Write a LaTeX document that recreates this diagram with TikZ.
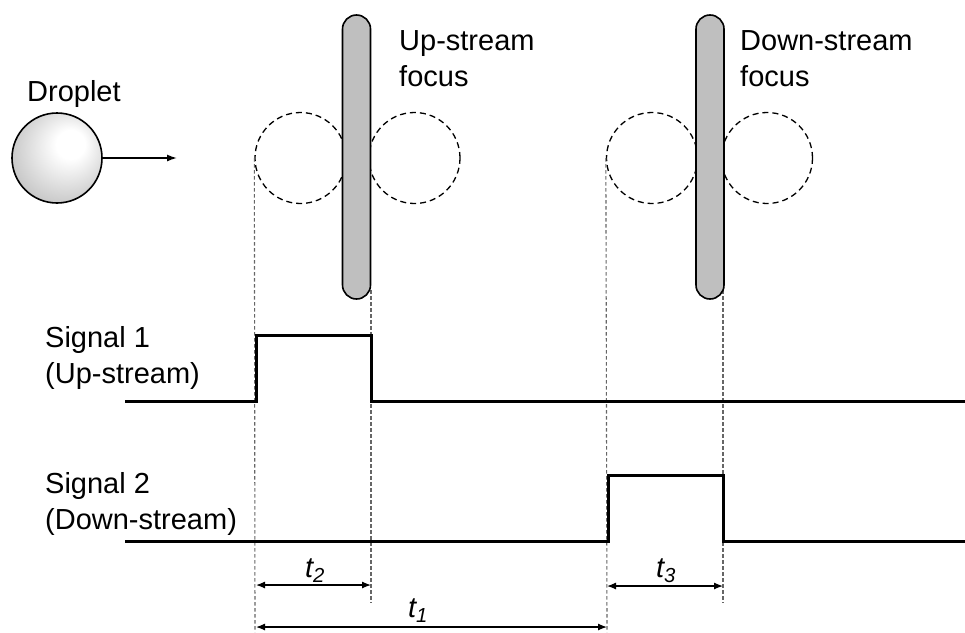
\documentclass[tikz,border=0pt]{standalone}
\usepackage{fontspec}
\setmainfont{Liberation Sans}
\usetikzlibrary{arrows.meta}
% soft highlight on the droplet, light from the upper right
\pgfdeclareradialshading{dropshade}{\pgfqpoint{9bp}{9bp}}{%
  color(0bp)=(white); color(8bp)=(white); color(40bp)=(black!32); color(50bp)=(black!32)}
\begin{document}
\begin{tikzpicture}[x=1pt,y=-1pt,
  every node/.style={font=\fontsize{29}{36}\selectfont},
  txt/.style={anchor=base west,inner sep=0pt,align=left},
  tlab/.style={anchor=base,inner sep=0pt},
  bar/.style={draw,line width=1.6pt,fill=black!25,rectangle,rounded corners=14pt,
    minimum width=28pt,minimum height=284pt,inner sep=0pt},
  ghost/.style={draw,circle,line width=1.3pt,dash pattern=on 6pt off 4pt,
    minimum size=91pt,inner sep=0pt},
  sig/.style={line width=3pt,miter limit=10},
  guide/.style={draw=black!60,line width=1.1pt,dash pattern=on 3.5pt off 2.5pt},
  dim/.style={line width=1.2pt,{Latex[length=9pt,width=7pt]}-{Latex[length=9pt,width=7pt]}}]
\useasboundingbox (0,0) rectangle (965,632);

% droplet and its direction of travel
\shade[shading=dropshade] (57,158) circle (45);
\node[circle,draw,line width=1.6pt,minimum size=90pt,inner sep=0pt] (drop) at (57,158) {};
\coordinate (dir) at (177,158);
\draw[line width=1.4pt,-{Latex[length=10pt,width=7pt]}] (drop.east) -- (dir);
\node[txt] (droplab) at (27,101) {Droplet};

% droplet positions either side of each focus
\node[ghost] (ua) at (300.5,158) {};
\node[ghost] (ub) at (414.5,158) {};
\node[ghost] (da) at (652,158) {};
\node[ghost] (db) at (767,158) {};

% guide lines from the geometry down to the time axis
\coordinate (g1) at (255,632);
\coordinate (g2) at (371,603);
\coordinate (g3) at (607,632);
\coordinate (g4) at (723,603);
\coordinate (u2) at (371,290);
\coordinate (d2) at (723,290);
\draw[guide] (ua.west) -- (g1);
\draw[guide] (u2) -- (g2);
\draw[guide] (da.west) -- (g3);
\draw[guide] (d2) -- (g4);

% the two laser foci
\node[bar] (ubar) at (356.5,157) {};
\node[bar] (dbar) at (710,157) {};
\node[txt] (ulab) at (399,86) {Up-stream\\focus};
\node[txt] (dlab) at (740,86) {Down-stream\\focus};

% detector signals
\node[txt] (s1lab) at (45,383) {Signal 1\\(Up-stream)};
\node[txt] (s2lab) at (45,529) {Signal 2\\(Down-stream)};
\draw[sig] (125,401) -- (256,401) -- (256,335) -- (371,335) -- (371,401) -- (965,401);
\draw[sig] (125,541) -- (608,541) -- (608,475) -- (723,475) -- (723,541) -- (965,541);

% time intervals
\coordinate (a2l) at (256,585);
\coordinate (a2r) at (371,585);
\coordinate (a3l) at (607,586);
\coordinate (a3r) at (723,586);
\coordinate (a1l) at (256,627);
\coordinate (a1r) at (607,627);
\draw[dim] (a2l) -- (a2r);
\draw[dim] (a3l) -- (a3r);
\draw[dim] (a1l) -- (a1r);
\node[tlab] (t2) at (315,577) {\itshape t\textsubscript{2}};
\node[tlab] (t3) at (666,577) {\itshape t\textsubscript{3}};
\node[tlab] (t1) at (418,617) {\itshape t\textsubscript{1}};
\end{tikzpicture}
\end{document}
